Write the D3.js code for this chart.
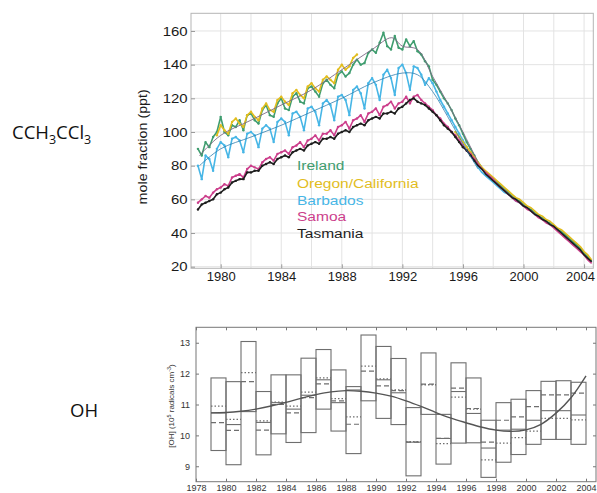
<!DOCTYPE html>
<html>
<head>
<meta charset="utf-8">
<script src="https://cdn.jsdelivr.net/npm/d3@7/dist/d3.min.js"></script>
<style>
    body { margin: 0; background: #fff; }
    svg { display: block; font-family: "Liberation Sans", Arial, sans-serif; }
</style>
</head>
<body>
<div class="chart-container"></div>
<script>
// ---- CCH3CCl3 panel: quarterly values from 1978.5 (ppt) ----
const firstYear = 1978.5;
const stepYear = 0.25;
const seriesNames = ["Ireland", "Oregon/California", "Barbados", "Samoa", "Tasmania"];
const seriesColors = ["#3f9d6f", "#e2bd1e", "#47b6e6", "#cc3f8c", "#1e1e1e"];

const ireland = [90, 86,
    94, 91, 97, 100, 109, 100, 98, 104, 103, 107, 101, 110, 111, 107, 105, 113,
    116, 110, 109, 117, 120, 114, 113, 121, 123, 118, 117, 126, 127, 124, 121, 129,
    131, 128, 126, 134, 136, 133, 135, 140, 143, 140, 141, 147, 149, 147, 153, 159,
    151, 149, 157, 150, 149, 155, 151, 154, 148, 146, 142, 139, 131, 128, 124, 120,
    117, 113, 108, 104, 99, 94, 90, 86, 82, 79, 76, 74, 72, 70, 68, 66,
    64, 62, 60, 59, 57, 55, 54, 52, 50, 49, 47, 46, 44, 42, 41, 39,
    37, 35, 33, 31, 28, 26, 23];
const oregon = [null, null,
    null, null, null, 98, 104, 101, 99, 106, 108, 105, 103, 110, 112, 109, 107, 114,
    117, 113, 112, 119, 121, 118, 116, 123, 125, 122, 120, 127, 129, 126, 124, 131,
    133, 131, 129, 137, 140, 137, 139, 144, 146, null, null, null, null, null, null, null,
    null, null, null, null, null, null, null, null, null, null, null, null, null, null, null, null,
    null, null, 100, 97, 94, 91, 88, 85, 82, 79, 77, 75, 73, 71, 69, 67,
    65, 63, 61, 60, 58, 56, 55, 53, 51, 50, 48, 47, 45, 43, 42, 40,
    38, 36, 34, 32, 29, 27, 24];
const barbados = [80, 72,
    86, 84, 77, 90, 94, 92, 85, 96, 97, 95, 88, 99, 100, 98, 91, 102,
    104, 102, 94, 106, 108, 106, 98, 111, 112, 109, 101, 114, 115, 112, 104, 117,
    119, 116, 107, 121, 122, 119, 110, 125, 127, 123, 114, 129, 132, 128, 119, 134,
    137, 132, 122, 138, 140, 135, 125, 139, 138, 134, 128, 132, 129, 124, 119, 115,
    111, 107, 103, 99, 95, 91, 87, 83, 79, 76, 74, 72, 70, 68, 66, 64,
    63, 61, 59, 58, 56, 55, 53, 51, 50, 48, 47, 45, 44, 42, 40, 38,
    36, 34, 32, 30, 28, 25, 23];
const samoa = [58, 60,
    62, 61, 64, 66, 67, 69, 68, 73, 74, 75, 73, 78, 80, 79, 78, 82,
    84, 85, 83, 87, 88, 89, 87, 91, 92, 94, 91, 95, 96, 98, 95, 99,
    99, 101, 98, 103, 104, 106, 102, 107, 108, 110, 106, 111, 112, 114, 110, 115,
    116, 118, 114, 117, 118, 121, 117, 121, 122, 119, 117, 115, 113, 110, 108, 105,
    103, 100, 98, 95, 92, 89, 87, 84, 81, 78, 76, 74, 72, 69, 67, 65,
    63, 61, 59, 58, 56, 54, 53, 51, 49, 48, 46, 45, 43, 41, 39, 37,
    35, 33, 31, 29, 27, 24, 22];
const tasmania = [54, 57,
    58, 59, 60, 63, 64, 66, 67, 70, 71, 72, 72, 76, 76, 77, 77, 80,
    81, 82, 81, 84, 85, 86, 85, 88, 89, 90, 89, 92, 93, 94, 93, 96,
    96, 97, 96, 99, 100, 101, 100, 103, 104, 105, 104, 107, 108, 109, 108, 111,
    111, 112, 111, 114, 115, 117, 119, 120, 118, 117, 116, 114, 112, 110, 107, 104,
    102, 100, 97, 94, 91, 89, 86, 83, 80, 78, 75, 73, 71, 69, 67, 65,
    63, 61, 60, 58, 56, 55, 53, 51, 50, 48, 47, 45, 44, 42, 40, 38,
    36, 34, 32, 30, 27, 25, 23];

// thin smooth fits through the northern and Barbados records
const nhFitYears = [1978.6, 1980, 1982, 1984, 1986, 1988, 1990, 1991.3, 1992, 1993, 1994, 1995, 1996, 1997];
const nhFitValues = [86, 98, 107, 116, 125, 137, 149, 156, 151, 149, 133, 117, 100, 82];
const bbFitYears = [1978.6, 1980, 1982, 1984, 1986, 1988, 1990, 1992, 1993, 1994, 1995, 1996, 1997];
const bbFitValues = [80, 90, 97, 104, 112, 120, 129, 135, 134, 124, 109, 93, 78];

const topXTicks = [1980, 1984, 1988, 1992, 1996, 2000, 2004];
const topYTicks = [20, 40, 60, 80, 100, 120, 140, 160];

// ---- OH panel: one box per year ----
const ohYears = d3.range(1979, 2004);
const ohHigh = [11.86, 11.74, 13.04, 11.42, 11.96, 11.96, 12.5, 12.78, 12.12, 11.58, 13.25, 12.88, 12.49,
    10.9, 12.67, 10.68, 12.35, 11.86, 10.49, 11.06, 11.17, 11.45, 11.75, 11.77, 11.72];
const ohLow = [9.51, 9.05, 10.77, 9.37, 10.05, 9.77, 10.09, 10.85, 10.14, 9.41, 11.12, 10.55, 10.35,
    8.69, 10.68, 9.07, 9.75, 9.76, 8.64, 9.13, 9.38, 9.71, 9.87, 9.87, 9.71];
const ohSolid = [10.73, 10.35, null, 10.42, 11.06, 10.85, 11.3, 11.8, 11.06, 11.47, null, 11.8, 11.38,
    9.78, null, 9.9, 11.42, 10.71, 9.59, 10.17, 10.2, 10.49, 10.8, 10.8, 10.66];
const ohDashed = [10.41, 10.16, 11.74, 10.17, 11.0, 10.73, 11.22, 11.67, 11.12, 10.36, 12.08, 11.6, 11.45,
    9.78, 11.66, 9.9, 11.53, 10.87, 9.78, 10.49, 10.6, 10.93, 11.31, 11.31, 11.37];
const ohDotted = [10.95, 10.52, 12.03, 10.47, 11.08, 10.95, 11.4, 11.86, 11.19, 10.6, 12.24, 11.83, 11.47,
    9.8, 11.64, 9.73, 11.24, 10.85, 9.21, 9.75, 9.93, 10.14, 10.55, 10.55, 10.5];
const ohTrendYears = d3.range(1979, 2005);
const ohTrend = [10.73, 10.74, 10.78, 10.85, 10.95, 11.07, 11.2, 11.32, 11.41, 11.45, 11.43, 11.37, 11.27,
    11.12, 10.94, 10.74, 10.56, 10.41, 10.27, 10.17, 10.13, 10.18, 10.36, 10.72, 11.22, 11.93];
const ohXTicks = d3.range(1978, 2005, 2);
const ohYTicks = [9, 10, 11, 12, 13];

const svg = d3.select(".chart-container")
    .append("svg")
    .attr("width", 597)
    .attr("height", 493);

// side labels
const chem = svg.append("text").attr("x", 12).attr("y", 139)
    .attr("font-family", "'Open Sans', sans-serif").attr("font-size", 18.5).attr("fill", "#111");
chem.append("tspan").text("CCH");
chem.append("tspan").text("3").attr("font-size", 12.5).attr("dy", 5);
chem.append("tspan").text("CCl").attr("dy", -5);
chem.append("tspan").text("3").attr("font-size", 12.5).attr("dy", 5);

svg.append("text").attr("x", 70).attr("y", 417)
    .attr("font-family", "'Open Sans', sans-serif").attr("font-size", 18.5).attr("fill", "#111")
    .text("OH");

// ================= top panel =================
const xTop = d3.scaleLinear().domain([1978.04, 2004.61]).range([191, 593.3]);
const yTop = d3.scaleLinear().domain([19.05, 170.5]).range([268.3, 13.3]);

const topG = svg.append("g");

topG.append("g")
    .selectAll("line")
    .data(d3.range(1980, 2005, 2))
    .join("line")
    .attr("x1", d => xTop(d)).attr("x2", d => xTop(d))
    .attr("y1", yTop.range()[1]).attr("y2", yTop.range()[0])
    .attr("stroke", "#e3e3e3").attr("stroke-width", 1);

topG.append("g")
    .selectAll("line")
    .data(topYTicks)
    .join("line")
    .attr("x1", xTop.range()[0]).attr("x2", xTop.range()[1])
    .attr("y1", d => yTop(d)).attr("y2", d => yTop(d))
    .attr("stroke", "#e3e3e3").attr("stroke-width", 1);

const toPoints = arr => arr.map((v, i) => ({ t: firstYear + i * stepYear, v: v }));

const line = d3.line()
    .defined(d => d.v != null)
    .x(d => xTop(d.t))
    .y(d => yTop(d.v));

const drawOrder = [
    { data: barbados, color: seriesColors[2], w: 1.6 },
    { data: ireland, color: seriesColors[0], w: 1.6 },
    { data: oregon, color: seriesColors[1], w: 1.6 },
    { data: samoa, color: seriesColors[3], w: 1.6 },
    { data: tasmania, color: seriesColors[4], w: 1.6 }
];

drawOrder.forEach(s => {
    const pts = toPoints(s.data);
    topG.append("path")
        .datum(pts)
        .attr("d", line)
        .attr("fill", "none")
        .attr("stroke", s.color)
        .attr("stroke-width", s.w)
        .attr("stroke-linejoin", "round");
    topG.append("g")
        .selectAll("circle")
        .data(pts.filter(d => d.v != null && d.t < 1997))
        .join("circle")
        .attr("cx", d => xTop(d.t))
        .attr("cy", d => yTop(d.v))
        .attr("r", 1.2)
        .attr("fill", s.color);
});

const fitLine = d3.line()
    .x(d => xTop(d[0]))
    .y(d => yTop(d[1]))
    .curve(d3.curveCatmullRom);

topG.append("path")
    .datum(d3.zip(nhFitYears, nhFitValues))
    .attr("d", fitLine)
    .attr("fill", "none").attr("stroke", "#7d6a86").attr("stroke-width", 0.9);
topG.append("path")
    .datum(d3.zip(bbFitYears, bbFitValues))
    .attr("d", fitLine)
    .attr("fill", "none").attr("stroke", "#2f7fb0").attr("stroke-width", 0.8);

// frame
topG.append("rect")
    .attr("x", xTop.range()[0]).attr("y", yTop.range()[1])
    .attr("width", xTop.range()[1] - xTop.range()[0])
    .attr("height", yTop.range()[0] - yTop.range()[1])
    .attr("fill", "none").attr("stroke", "#b5b5b5").attr("stroke-width", 1);

const topXAxis = d3.axisBottom(xTop)
    .tickValues(topXTicks)
    .tickFormat(d3.format("d"))
    .tickSize(-4)
    .tickPadding(4);

const topYAxis = d3.axisLeft(yTop)
    .tickValues(topYTicks)
    .tickSize(-4)
    .tickPadding(3);

const gxTop = topG.append("g")
    .attr("transform", `translate(0, ${yTop.range()[0]})`)
    .call(topXAxis);
const gyTop = topG.append("g")
    .attr("transform", `translate(${xTop.range()[0]}, 0)`)
    .call(topYAxis);

[gxTop, gyTop].forEach(g => {
    g.select(".domain").remove();
    g.selectAll(".tick line").attr("stroke", "#9a9a9a");
    g.selectAll(".tick text")
        .attr("fill", "#1a1a1a");
});
gxTop.selectAll(".tick text").attr("font-size", 12.5).attr("transform", "scale(1.04,1)");
gxTop.selectAll(".tick text").filter(d => d === 2004).attr("dx", -4);
gyTop.selectAll(".tick text").attr("font-size", 13).attr("transform", "scale(1.15,1)");

topG.append("text")
    .attr("transform", `translate(147, ${(yTop.range()[0] + yTop.range()[1]) / 2 + 6}) rotate(-90) scale(1.1,1)`)
    .attr("text-anchor", "middle")
    .attr("font-size", 13)
    .attr("fill", "#1a1a1a")
    .text("mole fraction (ppt)");

// legend
const legendY = [165, 182.5, 199.5, 216, 233];
topG.append("g")
    .selectAll("text")
    .data(seriesNames)
    .join("text")
    .attr("transform", (d, i) => `translate(297, ${legendY[i] + 5}) scale(1.15,1)`)
    .attr("font-size", 13.5)
    .attr("fill", (d, i) => seriesColors[i])
    .text(d => d);

// ================= bottom panel =================
const xBot = d3.scaleLinear().domain([1978, 2004]).range([196, 586]);
const yBot = d3.scaleLinear().domain([8.5, 13.5]).range([481.7, 327.3]);
const botG = svg.append("g");
const boxColor = "#6e6e6e";

const boxes = ohYears.map((yr, i) => ({
    yr: yr, high: ohHigh[i], low: ohLow[i],
    solid: ohSolid[i], dashed: ohDashed[i], dotted: ohDotted[i]
}));

botG.append("g")
    .selectAll("rect")
    .data(boxes)
    .join("rect")
    .attr("x", d => xBot(d.yr))
    .attr("width", d => xBot(d.yr + 1) - xBot(d.yr))
    .attr("y", d => yBot(d.high))
    .attr("height", d => yBot(d.low) - yBot(d.high))
    .attr("fill", "none")
    .attr("stroke", boxColor)
    .attr("stroke-width", 1.1);

const innerLines = [
    { key: "solid", dash: null, w: 1.1 },
    { key: "dashed", dash: "5,3", w: 1.2 },
    { key: "dotted", dash: "1.5,2", w: 1.3 }
];
innerLines.forEach(l => {
    botG.append("g")
        .selectAll("line")
        .data(boxes.filter(d => d[l.key] != null))
        .join("line")
        .attr("x1", d => xBot(d.yr))
        .attr("x2", d => xBot(d.yr + 1))
        .attr("y1", d => yBot(d[l.key]))
        .attr("y2", d => yBot(d[l.key]))
        .attr("stroke", boxColor)
        .attr("stroke-width", l.w)
        .attr("stroke-dasharray", l.dash);
});

botG.append("path")
    .datum(d3.zip(ohTrendYears, ohTrend))
    .attr("d", d3.line().x(d => xBot(d[0])).y(d => yBot(d[1])).curve(d3.curveCatmullRom))
    .attr("fill", "none")
    .attr("stroke", "#555")
    .attr("stroke-width", 1.4);

botG.append("rect")
    .attr("x", 196).attr("y", yBot.range()[1])
    .attr("width", 400)
    .attr("height", yBot.range()[0] - yBot.range()[1])
    .attr("fill", "none").attr("stroke", "#777").attr("stroke-width", 1);

const botXAxis = d3.axisBottom(xBot).tickValues(ohXTicks).tickFormat(d3.format("d")).tickSize(-3).tickPadding(3);
const botXTop = d3.axisTop(xBot).tickValues(ohXTicks).tickFormat("").tickSize(-3);
const botYAxis = d3.axisLeft(yBot).tickValues(ohYTicks).tickFormat(d3.format("d")).tickSize(-3).tickPadding(6);
const botYRight = d3.axisRight(yBot).tickValues(ohYTicks).tickFormat("").tickSize(-3);

const gb = [
    botG.append("g").attr("transform", `translate(0, ${yBot.range()[0]})`).call(botXAxis),
    botG.append("g").attr("transform", `translate(0, ${yBot.range()[1]})`).call(botXTop),
    botG.append("g").attr("transform", "translate(196, 0)").call(botYAxis),
    botG.append("g").attr("transform", "translate(596, 0)").call(botYRight)
];
gb.forEach(g => {
    g.select(".domain").remove();
    g.selectAll(".tick line").attr("stroke", "#777");
    g.selectAll(".tick text").attr("font-size", 9).attr("fill", "#333");
});

const ohLabel = botG.append("text")
    .attr("transform", "translate(174, 406) rotate(-90)")
    .attr("text-anchor", "middle")
    .attr("font-size", 8)
    .attr("fill", "#333");
ohLabel.append("tspan").text("[OH] (10");
ohLabel.append("tspan").text("5").attr("font-size", 5.5).attr("dy", -3);
ohLabel.append("tspan").text(" radicals cm").attr("dy", 3);
ohLabel.append("tspan").text("-3").attr("font-size", 5.5).attr("dy", -3);
ohLabel.append("tspan").text(")").attr("dy", 3);
</script>
</body>
</html>
